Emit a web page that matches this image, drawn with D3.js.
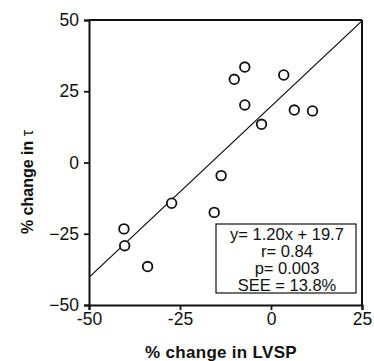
<!DOCTYPE html>
<html>
<head>
<meta charset="utf-8">
<script src="https://cdn.jsdelivr.net/npm/d3@7"></script>
<style>
  body { margin: 0; background: #fff; }
  text { font-family: "Liberation Sans", Arial, Helvetica, sans-serif; fill: #111; }
</style>
</head>
<body>
<div id="chart"></div>
<script>
// values
var lvsp = [-40.4, -40.2, -33.9, -27.3, -15.6, -13.7, -10.1, -7.2, -7.2, -2.6, 3.5, 6.4, 11.4];
var tau  = [-23.3, -29.2, -36.5, -14.3, -17.5, -4.6, 29.2, 33.5, 20.2, 13.4, 30.7, 18.4, 18.1];
var xTicks = [-50, -25, 0, 25];
var yTicks = [-50, -25, 0, 25, 50];
var slope = 1.20, intercept = 19.7;
var statLines = ["y= 1.20x + 19.7", "r= 0.84", "p= 0.003", "SEE = 13.8%"];

var W = 374, H = 361;
var margin = {top: 20, right: 12, bottom: 56, left: 89};
var width = W - margin.left - margin.right,
    height = H - margin.top - margin.bottom;

var svg = d3.select("#chart").append("svg")
  .attr("width", W).attr("height", H);
var g = svg.append("g")
  .attr("transform", "translate(" + margin.left + "," + margin.top + ")");

var x = d3.scaleLinear().domain([-50, 25]).range([0, width]);
var y = d3.scaleLinear().domain([-50, 50]).range([height, 0]);

// axes
var xAxis = g.append("g")
  .attr("transform", "translate(0," + height + ")")
  .call(d3.axisBottom(x).tickValues(xTicks).tickSize(5).tickPadding(3));
var yAxis = g.append("g")
  .call(d3.axisLeft(y).tickValues(yTicks).tickSize(5).tickPadding(5));

[xAxis, yAxis].forEach(function(a) {
  a.select(".domain").attr("stroke", "#111").attr("stroke-width", 2);
  a.selectAll(".tick line").attr("stroke", "#111").attr("stroke-width", 1.8);
  a.selectAll(".tick text").attr("font-size", 17.5).attr("fill", "#111")
    .attr("font-family", "'Liberation Sans', Arial, sans-serif");
});
xAxis.selectAll(".tick text").text(function(d) { return d; });

// top and right frame
g.append("line").attr("x1", 0).attr("x2", width).attr("y1", 0).attr("y2", 0)
  .attr("stroke", "#111").attr("stroke-width", 2);
g.append("line").attr("x1", width).attr("x2", width).attr("y1", 0).attr("y2", height)
  .attr("stroke", "#111").attr("stroke-width", 2);

// regression line
g.append("line")
  .attr("x1", x(-50)).attr("y1", y(slope * -50 + intercept))
  .attr("x2", x(25)).attr("y2", y(slope * 25 + intercept))
  .attr("stroke", "#111").attr("stroke-width", 1.3);

// points
g.selectAll("circle.pt")
  .data(lvsp.map(function(v, i) { return {x: v, y: tau[i]}; }))
  .enter().append("circle")
  .attr("class", "pt")
  .attr("cx", function(d) { return x(d.x); })
  .attr("cy", function(d) { return y(d.y); })
  .attr("r", 4.8)
  .attr("fill", "#fff")
  .attr("stroke", "#111")
  .attr("stroke-width", 1.8);

// stats box
var box = {x: 216 - margin.left, y: 224 - margin.top, w: 140, h: 69};
g.append("rect")
  .attr("x", box.x).attr("y", box.y).attr("width", box.w).attr("height", box.h)
  .attr("fill", "#fff").attr("stroke", "#111").attr("stroke-width", 1.2);
g.selectAll("text.stat")
  .data(statLines)
  .enter().append("text")
  .attr("class", "stat")
  .attr("x", box.x + box.w / 2 + 1)
  .attr("y", function(d, i) { return box.y + 16 + i * 17; })
  .attr("text-anchor", "middle")
  .attr("font-size", 16.5)
  .text(function(d) { return d; });

// axis titles
svg.append("text")
  .attr("x", 221).attr("y", 358)
  .attr("text-anchor", "middle")
  .attr("font-size", 17).attr("font-weight", "bold")
  .attr("letter-spacing", 0.3)
  .text("% change in LVSP");

var yt = svg.append("text")
  .attr("transform", "translate(33,182) rotate(-90)")
  .attr("text-anchor", "middle")
  .attr("font-size", 16).attr("font-weight", "bold");
yt.append("tspan").text("% change in ");
yt.append("tspan").attr("font-weight", "normal").text("τ");
</script>
</body>
</html>
